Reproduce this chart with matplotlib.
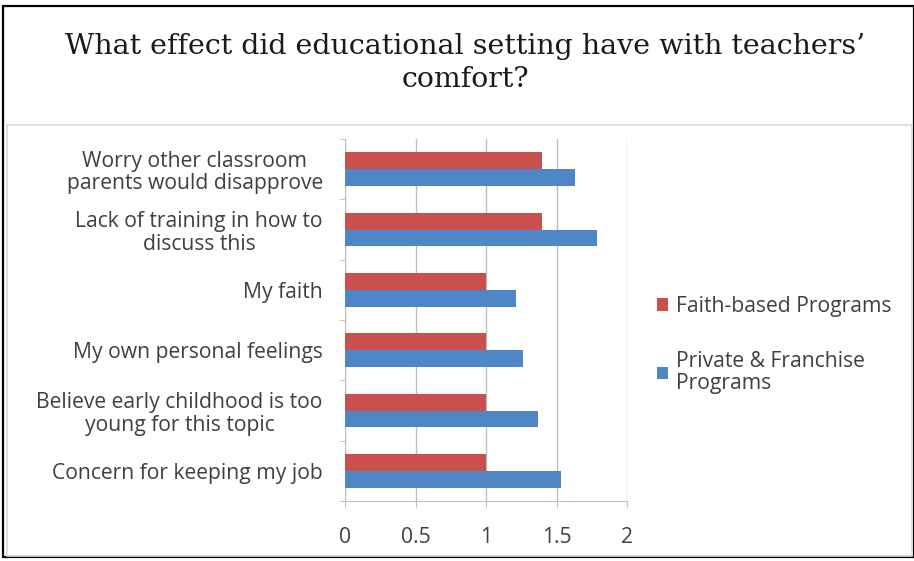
import matplotlib
matplotlib.use("Agg")
import matplotlib.pyplot as plt
from matplotlib.patches import Rectangle
import numpy as np

categories = [
    "Worry other classroom\nparents would disapprove",
    "Lack of training in how to\ndiscuss this",
    "My faith",
    "My own personal feelings",
    "Believe early childhood is too\nyoung for this topic",
    "Concern for keeping my job",
]
faith_based = [1.4, 1.4, 1.0, 1.0, 1.0, 1.0]
private_franchise = [1.63, 1.79, 1.21, 1.26, 1.37, 1.53]
series_names = ["Faith-based Programs", "Private & Franchise\nPrograms"]
xticks = [0, 0.5, 1, 1.5, 2]
xticklabels = ["0", "0.5", "1", "1.5", "2"]
title = "What effect did educational setting have with teachers\u2019\ncomfort?"

red = "#C9504C"
blue = "#4F86C6"
textc = "#404040"
sans = ["Open Sans", "DejaVu Sans"]
fs = 15.2

W, H = 914, 561
fig = plt.figure(figsize=(W / 100, H / 100), dpi=100)
fig.patch.set_facecolor("white")

# outer border and inner chart box
fig.add_artist(Rectangle((3 / W, 1 - 557 / H), (W - 3) / W, (557 - 6) / H,
                         transform=fig.transFigure, fill=False, lw=1.6,
                         edgecolor="black"))
fig.add_artist(Rectangle((7 / W, 1 - 556 / H), (912 - 7) / W, (556 - 125) / H,
                         transform=fig.transFigure, fill=False, lw=1.2,
                         edgecolor="#d9d9d9"))

fig.text(465 / W, 1 - 63 / H, title, ha="center", va="center",
         fontsize=20.5, family=["DejaVu Serif"],
         color="#1a1a1a", linespacing=1.3)

ax = fig.add_axes([345 / W, 1 - 501 / H, (627 - 345) / W, (501 - 139) / H])
n = len(categories)
y = np.arange(n)
bh = 0.28
ax.barh(y - bh / 2, faith_based, height=bh, color=red, label=series_names[0], zorder=3)
ax.barh(y + bh / 2, private_franchise, height=bh, color=blue, label=series_names[1], zorder=3)
ax.set_ylim(n - 0.5, -0.5)
ax.set_xlim(0, 2)
ax.set_xticks(xticks)
ax.set_xticklabels(xticklabels, fontsize=fs, family=sans, color=textc)
ax.set_yticks(y)
ax.set_yticklabels(categories, fontsize=fs, family=sans, color=textc,
                   ha="right", multialignment="center", linespacing=1.1)
ax.tick_params(axis="y", length=0, pad=16)
ax.set_yticks(np.arange(n + 1) - 0.5, minor=True)
ax.tick_params(axis="y", which="minor", length=4, color="#bfbfbf")
ax.tick_params(axis="x", length=4, color="#bfbfbf", pad=15)
ax.grid(axis="x", color="#bfbfbf", lw=1, zorder=0)
for s in ["top", "right"]:
    ax.spines[s].set_visible(False)
for s in ["left", "bottom"]:
    ax.spines[s].set_color("#bfbfbf")

handles, labels = ax.get_legend_handles_labels()
leg = fig.legend(handles, labels, loc="upper left",
                 bbox_to_anchor=(638 / W, 1 - 277 / H), frameon=False,
                 prop={"family": sans, "size": fs}, handlelength=0.5,
                 handleheight=0.5, handletextpad=0.4, labelspacing=1.6)
for t in leg.get_texts():
    t.set_color(textc)
    t.set_linespacing(1.1)

fig.savefig("out.png", dpi=100, facecolor="white")
